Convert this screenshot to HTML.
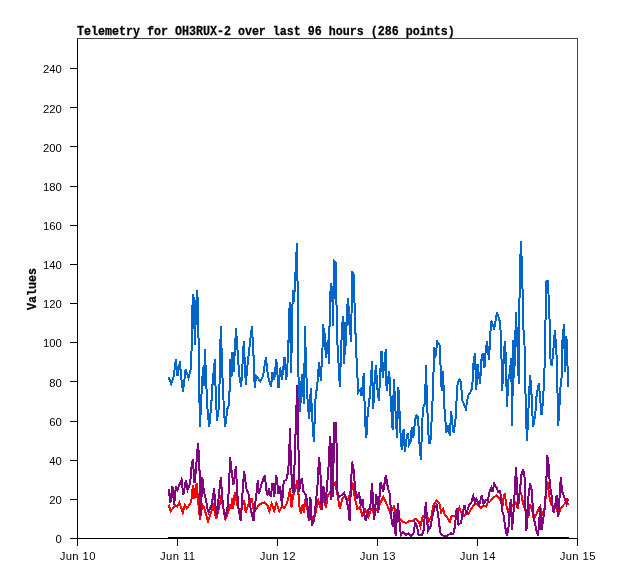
<!DOCTYPE html>
<html><head><meta charset="utf-8"><title>Telemetry</title>
<style>
html,body{margin:0;padding:0;background:#fff;}
body{width:618px;height:579px;overflow:hidden;position:relative;font-family:"Liberation Sans",sans-serif;}
svg{position:absolute;left:0;top:0;display:block;}
.t{font-family:"Liberation Sans",sans-serif;font-size:11.3px;fill:#000;}
.m{font-family:"Liberation Mono",monospace;font-weight:bold;font-size:11.67px;fill:#000;}
</style></head><body>
<svg width="618" height="579" viewBox="0 0 618 579">
<rect x="0" y="0" width="618" height="579" fill="#fff"/>
<g fill="none" stroke-width="2" stroke-linejoin="miter" stroke-linecap="butt" shape-rendering="crispEdges">
<polyline stroke="#0066cc" points="168.6,377 171.2,384 173.8,376 175.9,359.5 177.5,376 179.9,361.5 181.2,377 183,391.5 185.6,369.5 188.5,378 190.5,370 191.6,349 192.1,313 193.1,294 194.2,302 194.7,345 195.8,318 196.9,290 198.2,306 198.6,347 199.4,397 200,427 201.3,398 202.3,378 203.4,367 204,386 204.9,349.5 206.3,385 207.5,409 209.2,427 211.3,404 212.7,381.5 214.9,359.5 215.6,390 217,421 218.7,409 219.6,381.5 220.8,326.5 222.5,378 223.9,409 225.1,427 227.4,409 229.1,404 230,377 230.5,359.5 231.5,377 232.5,352 233.7,372 236,328.5 238.6,366 239.8,380 241.2,386.5 243.8,341.5 245.8,384.5 248,360 251.9,326.5 254.1,366 254.7,388.4 256,376 257.8,378 260.4,381.5 263,376 265.9,357.3 268.1,377 271.1,386.6 272.5,372 274.2,380 276.3,359.3 278.5,388.4 280.2,367.6 282,379.7 284.5,357.3 286.3,379.7 288,357 289.7,302 291.1,372.8 292.8,290 294,302 295.8,266 297,243 297.8,302 298.4,374.5 300.1,411.7 301.8,374.5 304.1,404 304.9,326.4 306.1,366 307,392 309.1,419.4 310.8,388.4 312.2,418 313.9,442 315.3,400.5 317.4,383.2 319.1,361.6 320.8,380.6 322.5,349 322.9,324.3 324.6,334 326,358 327.7,340 329.1,364.2 329.8,300.5 331.2,283 332.3,293 333.1,325.5 334.1,261 335.8,262.5 336.4,300.5 337.5,345 339.8,386.6 341.5,340 342.9,316 344.3,364 345.3,322 346,346 346.9,311 348.1,298.4 349.5,325 351.2,342.2 352,271 353.5,274 354.7,308 355.9,345.6 357.6,380 358.1,392.5 360,390 361.6,396 363.8,373.5 365,420 366.3,438.2 367.6,415 369.4,400 371,380 372,361.2 373.2,408.9 374.5,384 375.9,365.5 377.5,390 378.9,401 380.3,372 381.5,350.8 382.8,377.8 384.5,362 385.8,349.1 386.6,390.7 389.2,371.5 391,404.5 392.7,430.4 393.9,379.5 395.6,413 397,438.2 398.4,387.3 399.6,413 400.8,439 401.8,450.3 403.6,428.7 404.8,452 406.5,439 407.9,433 409.1,444.3 410.8,441 411.7,427 413.4,437.4 415.1,420 416.5,415 418.1,416.6 419.1,439 420.8,459.8 422,430.4 422.9,408 424.6,404.5 425.5,384 425.8,365 426.9,396 428.1,430.4 429.3,444.3 430.7,439 432.4,404.5 433.6,370 434.1,347.4 435.3,357.7 437.3,341.5 439.5,345 440.7,369 441.7,390.7 443,371 444.2,404.5 445.5,421.8 446.4,433 447.8,425.3 449.9,435.6 451.1,410.6 452.5,425 453.7,433 455.9,416.6 456.8,394.2 457.6,383.8 459.4,379.5 461.1,382 462,399.4 463.7,403.7 465.9,408.9 468,396 470.6,392 472.3,387.3 473.2,365.6 474.9,353.5 476.3,390 477.5,364 480.1,383.8 481.3,360.4 482.7,353.5 484.4,368.2 485.6,351.8 487,341.5 489.1,360.4 490.1,336.3 491.3,320.7 494.2,329.4 497,312.1 499.6,320.7 500.8,332.8 501.7,365.6 502.2,390.7 503.4,365.6 504.8,341.5 506,358.7 506.9,407 508.4,380 509.8,372 511.2,358 512.1,425.5 513.3,340 514,378 514.7,330 515.2,366 515.8,312.1 517.5,346.6 518.8,384 519.7,277 521,241 522.3,280 523.4,328 524.5,345.3 525.6,398.7 526.9,441 528.2,417.7 529,393.5 530.2,375.4 531.4,391.8 532.5,416 533.2,427.2 535.4,412.5 536.6,395.3 538.9,383.2 541.5,415.1 543.2,400.4 544,378 545.2,354.7 545.6,311 546.5,281 547.8,281 549.4,311 550.1,357.3 551.8,365.9 553.5,348.6 554.9,330.1 556.7,357.3 557.3,383.2 558.2,425.5 559.6,403.9 560.4,388.4 562.2,372 562.5,340.5 563.9,324.2 565.1,372 566.4,336.3 567.4,362.5 568.2,386.6"/>
<polyline stroke="#ff0000" points="168.6,504.8 170.7,511.2 173,508.2 175.5,505.6 177.3,506.5 179.3,502.5 181,507 182.8,512.5 185,504.8 186.8,508.2 190.2,503.9 192,497 192.8,485.2 193.8,499 194.6,488 195.6,498 196.6,483.2 198,498.7 198.9,509 200,519.4 202.3,504.8 204,507.4 206,514 208,521.2 211,512.5 213.5,505.6 216.1,519.1 218.7,509 220.8,498.7 223,505.6 225.3,519.1 228.2,512.5 229.7,504 231.3,509 232.3,498 233.2,509 234.3,496 235.4,492.5 236.9,504 238.6,509 241.2,509 244.1,500.4 245.8,512.5 248,505.6 249.8,498.7 251.7,498.7 253.5,509 254.8,511.2 257.8,506.5 260.4,503.9 264.7,502.5 267.3,504.8 269.3,511.2 271.6,503.9 274.2,510.8 276.3,503 279.4,511.2 282,506.5 284.5,508.2 287.1,503 288.9,495.3 290.1,488.4 291.5,507.4 293.2,495.3 295.2,490 297.5,480.6 298.7,497 299.7,509 301,513.4 302.7,503.9 303.9,512.5 305.3,498.7 307,509 309.6,512.5 311.5,516 313.6,520.3 315.6,512.5 318.2,500.4 321.2,510 323.4,498.7 326,507.4 327.7,495.3 330.3,491.8 332.9,487.5 335,483.2 337.2,493.5 338.4,500.4 339.8,509 342.4,498.7 345.2,495.3 347.8,500.4 350.4,491.8 352.4,482.3 354.7,497 357.3,509 359.9,507.4 362.1,515.1 365,509 368.5,516.9 371.1,509 373.7,512.5 377.1,509 380.6,502.2 383.2,497 385.8,502.2 388,507.4 390.1,512.5 393.9,506.5 397,516 399.6,518.6 403,522 406.5,522.9 409.1,521.2 412.5,521.2 416,518.6 418.6,521.2 420.3,526.4 422.9,516 426.4,514.3 428.9,521.2 431.5,516 433.3,505.6 436.6,500.4 439.5,503.9 441.2,512.5 443,509 444.7,514.3 447.3,517.7 449.9,522 451.6,516 455,516 456.8,512.5 459.4,507.4 461.1,512.5 463.7,516 466.3,514.3 468.9,513.4 471.5,508.2 474.9,503.9 478.4,504.8 481,508.2 483.5,505.6 486.1,506.5 487.9,502.2 490.4,501.3 493,497.9 496.5,495.3 499.1,497.9 501.2,502.2 502.2,509 503.4,498.7 504.8,492.7 506,503.9 507.7,510.8 510.3,507.4 512.9,505.6 515.5,502.2 518.1,509 519.5,492.7 521.1,492.7 522.5,500.4 524.2,507.4 525.9,512.5 528.5,516 530.2,503.9 532,509 533.7,519.4 536.3,514.3 538.9,508.2 540.1,506.5 542.3,516 544.6,507.4 546.3,491.8 547.5,481.5 549.2,495.3 551,503.9 553.5,506.5 556.1,503.9 558.2,516 560.4,509 563,505.6 565.3,503 566.5,500.4 568.2,504.8"/>
<polyline stroke="#800080" points="168.6,489.2 170.4,503 172.4,485.8 174.2,504.8 175.9,485.8 177.3,490 179,485.8 181.6,479.7 183.3,495.3 185.9,479.7 187.6,490 190.2,483.2 191.4,467.6 192.8,459.3 194.5,483.2 195.8,471.1 198,443.1 199.4,462.5 200.1,509 200.6,516 201.5,497 202.3,477.1 204,491.8 205.8,498.7 207.5,509 208.7,512.5 211.8,503.9 213.2,495.3 214,488.4 215.6,507.4 217,515.1 218.7,497 220.8,477.1 222.2,497 223.9,512.5 225.3,516.9 227.4,509 229.1,486.6 230,457.3 231.7,471.1 233.4,485 236,465.9 236.9,488.4 238.6,509 240.8,521.2 242.6,491.8 244.1,471.1 246.4,488.4 248.9,495.3 250.7,509 253.6,521.2 255.2,504 256.6,492 257.8,480.1 259,493.5 261.2,485 264.7,475.4 266.4,490 267.3,495.3 269,488.4 270.7,497 272.5,483.2 274.2,497 276.3,475.4 278.5,493.5 280.2,486.6 282,505.6 283.7,481.5 286.3,479.7 288.3,471.1 289.5,444 290,428.4 290.8,462.5 292.3,488 293.6,493 295.6,432 297.2,385 298.3,428.4 298.9,491.8 301.8,478 303.5,491.8 306.1,495.3 307.9,509 308.7,520.8 310.4,497 311.8,525.5 313.9,521.2 315.6,505.6 317.4,486.6 319.1,457.3 320.5,474.5 321.7,510 323.4,485.8 325.1,503.9 326.9,488.4 328.6,465.9 330,436 331.2,500 332.4,443 333.2,497 333.9,422.5 335.9,422.5 336.9,455 337.3,491.8 339,497 341.5,495.3 344.1,492.7 346.7,500.4 348.4,509 349.6,521.2 350.7,491.8 352.1,461.6 353.8,471.1 355.2,490 357.3,498.7 359,491.8 360.7,505.6 362.5,498.7 364.2,514.3 365.9,521.2 368.5,509 370.2,509 372,483.2 374.2,520.3 376.3,494.4 378.3,512.5 380.6,482.3 383.2,491.8 385.8,475.4 388,488.4 390.1,495.3 391,516 392.7,526.4 394.4,512.5 395.6,535.9 397.9,503 399.6,522.9 400.8,535 403,532.4 405.6,535 408.2,533.3 410.8,535.9 413.4,534.1 415.1,523 416.9,525.5 418.6,535 422,535 423.8,529.8 425,512.5 425.8,502.2 427.2,521.2 428.1,530.7 430.7,526.4 432.4,516 434.3,508.2 436.6,504.8 438.3,516 439.5,526.4 440.7,534 443.8,535.9 447.3,535.9 450.7,533.3 453.3,534 455,526.4 456.3,510.8 457.3,508.2 458.5,524.6 461.1,522.9 462.8,512.5 464.5,504.8 466.3,514.3 468.9,505.6 471.5,502.2 473.2,496.1 475.2,503.9 476.3,498.7 479.2,505.6 481.8,495 483.5,504 486.1,499.6 487.9,500.4 489.6,491.8 491.3,487.5 492.5,491.8 494.2,483.5 496.5,487.5 498.2,491.8 500,491 501.2,498.7 502.2,510.8 503.4,514.3 505.1,526.4 506.9,535.9 508.6,526.4 509.4,512.5 510.8,498.7 512,529.8 513.8,509 515,484.9 516,467.3 518.1,505.6 519.8,491.8 521.5,474.5 523.3,469.4 524.7,478 525.5,509 526.4,530.7 528.1,509 528.6,493.5 530.2,483.2 532,491.8 532.8,509 534.5,521.2 536.3,529.8 538,535.9 539.2,522 540.1,506.5 541.5,529.8 543.2,519.4 544.6,509 545.8,491.8 546.6,474.5 547.2,455.5 548.4,462.5 549.2,474.5 550.1,486.6 551.8,497 552.7,509 553.9,512.5 555.3,503.9 556.7,495.3 558.2,516.9 559.6,497 560.8,477.1 562.2,491.8 563.6,495.3 564.8,498.7 566.5,503.9 568.2,498.7"/>
</g>
<rect x="168" y="537" width="401" height="2" fill="#000" shape-rendering="crispEdges"/>
<g shape-rendering="crispEdges" fill="#000">
<rect x="77" y="38" width="1" height="501"/>
<rect x="77" y="538" width="501" height="1"/>
<rect x="77" y="38" width="501" height="1" fill="#444"/>
<rect x="577" y="38" width="1" height="501" fill="#444"/>
<rect x="70" y="538" width="8" height="1"/>
<rect x="70" y="499" width="8" height="1"/>
<rect x="70" y="460" width="8" height="1"/>
<rect x="70" y="421" width="8" height="1"/>
<rect x="70" y="381" width="8" height="1"/>
<rect x="70" y="342" width="8" height="1"/>
<rect x="70" y="303" width="8" height="1"/>
<rect x="70" y="264" width="8" height="1"/>
<rect x="70" y="225" width="8" height="1"/>
<rect x="70" y="186" width="8" height="1"/>
<rect x="70" y="146" width="8" height="1"/>
<rect x="70" y="107" width="8" height="1"/>
<rect x="70" y="68" width="8" height="1"/>
<rect x="77" y="538" width="1" height="8"/>
<rect x="177" y="538" width="1" height="8"/>
<rect x="277" y="538" width="1" height="8"/>
<rect x="377" y="538" width="1" height="8"/>
<rect x="477" y="538" width="1" height="8"/>
<rect x="577" y="538" width="1" height="8"/>
</g>
<g opacity="0.999">
<text class="t" x="61.8" y="543.1" text-anchor="end">0</text>
<text class="t" x="61.8" y="504.0" text-anchor="end">20</text>
<text class="t" x="61.8" y="464.8" text-anchor="end">40</text>
<text class="t" x="61.8" y="425.7" text-anchor="end">60</text>
<text class="t" x="61.8" y="386.5" text-anchor="end">80</text>
<text class="t" x="61.8" y="347.4" text-anchor="end">100</text>
<text class="t" x="61.8" y="308.2" text-anchor="end">120</text>
<text class="t" x="61.8" y="269.1" text-anchor="end">140</text>
<text class="t" x="61.8" y="229.9" text-anchor="end">160</text>
<text class="t" x="61.8" y="190.7" text-anchor="end">180</text>
<text class="t" x="61.8" y="151.6" text-anchor="end">200</text>
<text class="t" x="61.8" y="112.5" text-anchor="end">220</text>
<text class="t" x="61.8" y="73.3" text-anchor="end">240</text>
<text class="t" x="77.8" y="560.2" text-anchor="middle" letter-spacing="0.4">Jun 10</text>
<text class="t" x="177.8" y="560.2" text-anchor="middle" letter-spacing="0.4">Jun 11</text>
<text class="t" x="277.8" y="560.2" text-anchor="middle" letter-spacing="0.4">Jun 12</text>
<text class="t" x="377.8" y="560.2" text-anchor="middle" letter-spacing="0.4">Jun 13</text>
<text class="t" x="477.8" y="560.2" text-anchor="middle" letter-spacing="0.4">Jun 14</text>
<text class="t" x="577.8" y="560.2" text-anchor="middle" letter-spacing="0.4">Jun 15</text>
<text class="m" stroke="#000" stroke-width="0.25" transform="translate(77,35) scale(1,1.13)">Telemetry for OH3RUX-2 over last 96 hours (286 points)</text>
<text class="m" stroke="#000" stroke-width="0.25" transform="translate(35.6,310) rotate(-90) scale(1,1.13)">Values</text>
</g>
</svg>
</body></html>
